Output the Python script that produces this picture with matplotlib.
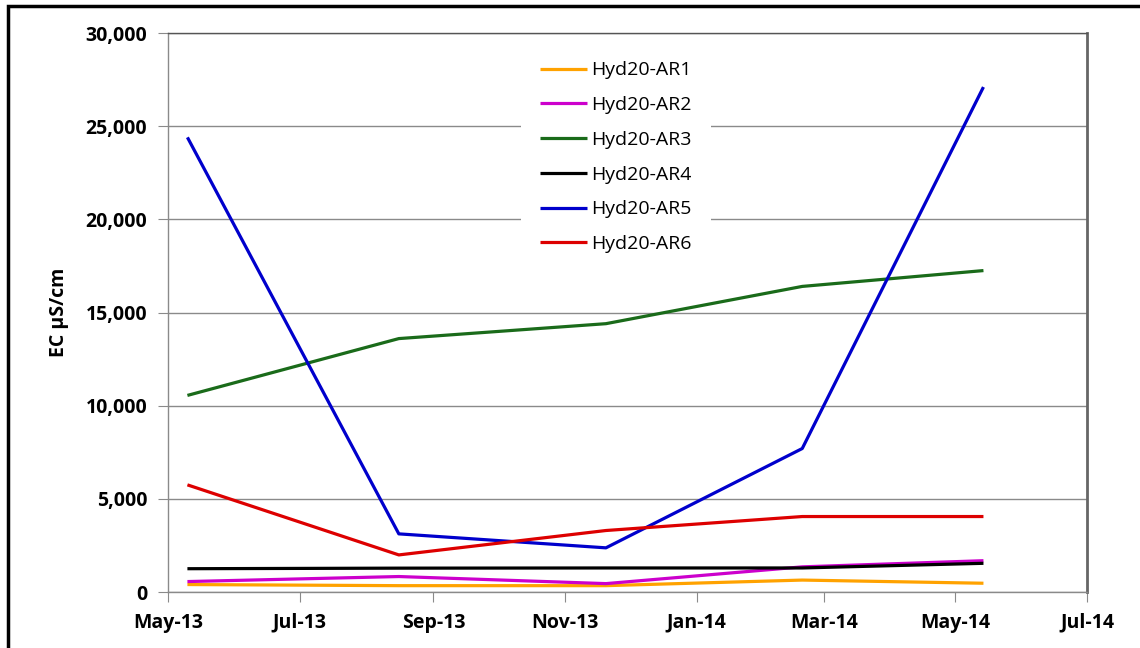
import numpy as np
import pandas as pd
import matplotlib
matplotlib.use('Agg')
import matplotlib.pyplot as plt
import matplotlib.dates as mdates
import matplotlib.patches as patches
from matplotlib.ticker import FuncFormatter

# sampling dates and EC readings (uS/cm)
dates = pd.to_datetime(['2013-05-10', '2013-08-16', '2013-11-20', '2014-02-19', '2014-05-14'])
ar1 = [400, 340, 340, 640, 470]
ar2 = [560, 830, 450, 1350, 1680]
ar3 = [10550, 13600, 14400, 16400, 17250]
ar4 = [1250, 1280, 1290, 1290, 1540]
ar5 = [24400, 3120, 2370, 7700, 27100]
ar6 = [5750, 1990, 3300, 4050, 4050]
names = ['Hyd20-AR1', 'Hyd20-AR2', 'Hyd20-AR3', 'Hyd20-AR4', 'Hyd20-AR5', 'Hyd20-AR6']
colors = ['#FFA200', '#CC00CC', '#1A6B1A', '#000000', '#0000CC', '#DD0000']
y_ticks = [0, 5000, 10000, 15000, 20000, 25000, 30000]

plt.rcParams['font.family'] = ['Open Sans', 'DejaVu Sans']

fig = plt.figure(figsize=(11.4, 6.48), dpi=100)
ax = fig.add_axes([168/1140, 1-592/648, (1087-168)/1140, (592-33)/648])

for vals, name, c in zip([ar1, ar2, ar3, ar4, ar5, ar6], names, colors):
    ax.plot(dates, vals, color=c, lw=2.3, label=name, solid_capstyle='butt')

ax.set_xlim(pd.Timestamp('2013-05-01'), pd.Timestamp('2014-07-01'))
ax.set_ylim(0, 30000)
ax.set_yticks(y_ticks)
ax.yaxis.set_major_formatter(FuncFormatter(lambda v, p: '{:,.0f}'.format(v)))
ax.xaxis.set_major_locator(mdates.MonthLocator(bymonth=[1, 3, 5, 7, 9, 11]))
ax.xaxis.set_major_formatter(mdates.DateFormatter('%b-%y'))

ax.grid(axis='y', color='#8a8a8a', lw=1.0)
ax.set_axisbelow(True)
for s in ['left', 'bottom', 'top']:
    ax.spines[s].set_color('#8a8a8a')
    ax.spines[s].set_linewidth(1.0)
ax.spines['top'].set_color('#555555')
ax.spines['right'].set_color('#666666')
ax.spines['right'].set_linewidth(2.0)

ax.tick_params(axis='both', direction='out', length=7, color='#8a8a8a', labelsize=14)
ax.tick_params(axis='y', pad=8)
ax.tick_params(axis='x', pad=8)

ax.set_ylabel('EC µS/cm', fontsize=14, fontweight='bold', labelpad=12)

leg = ax.legend(loc='upper left', bbox_to_anchor=((521-168)/919, (592-42)/559),
                frameon=True, fontsize=14, handlelength=2.4, handletextpad=0.2,
                labelspacing=0.86, borderpad=1.0, borderaxespad=0)
leg.get_frame().set_facecolor('white')
leg.get_frame().set_edgecolor('none')
leg.get_frame().set_alpha(1)
for line in leg.get_lines():
    line.set_linewidth(2.3)

# outer chart border (cut off at the right and bottom of the image)
border = patches.Rectangle((8/1140, -0.1), 1.2, 1.1 - 6/648, transform=fig.transFigure,
                           fill=False, edgecolor='black', lw=2.5)
fig.patches.append(border)

fig.canvas.draw()
for lab in ax.get_xticklabels() + ax.get_yticklabels():
    lab.set_fontweight('bold')

plt.savefig('out.png', dpi=100)
